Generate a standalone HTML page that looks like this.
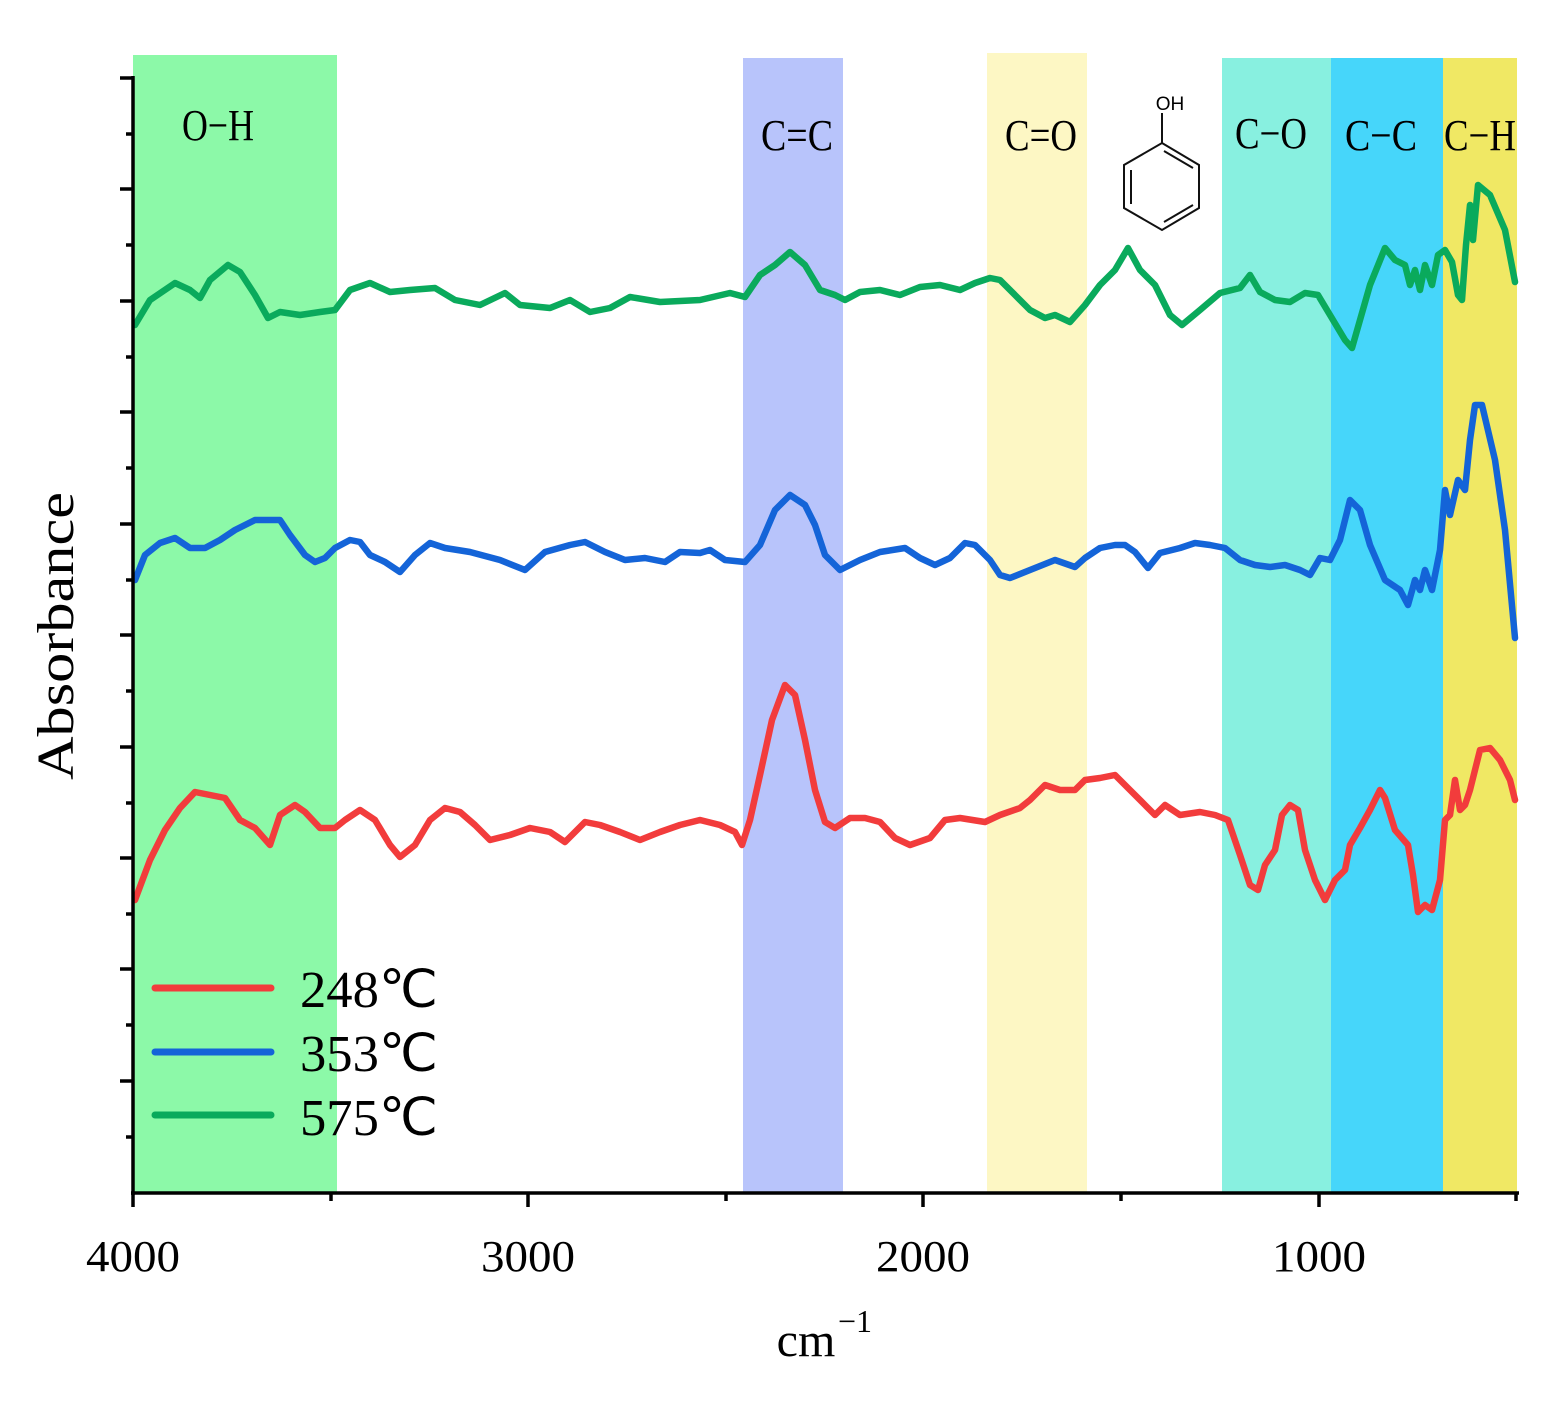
<!DOCTYPE html>
<html><head><meta charset="utf-8"><style>body{margin:0;background:#fff}svg{display:block}</style></head><body>
<svg width="1561" height="1401" xmlns="http://www.w3.org/2000/svg" font-family="Liberation Serif, serif">
<rect x="133" y="55" width="204" height="1138" fill="#8cf9a8"/>
<rect x="743" y="58" width="100" height="1135" fill="#b8c4fb"/>
<rect x="987" y="53" width="100" height="1140" fill="#fdf7c4"/>
<rect x="1222" y="58" width="109" height="1135" fill="#88f0e0"/>
<rect x="1331" y="58" width="112" height="1135" fill="#46d6fa"/>
<rect x="1443" y="58" width="74" height="1135" fill="#f0e864"/>
<g font-size="44" text-anchor="middle">
<text x="218" y="140" textLength="72" lengthAdjust="spacingAndGlyphs">O−H</text><text x="797" y="150" textLength="72" lengthAdjust="spacingAndGlyphs">C=C</text><text x="1041" y="150" textLength="72" lengthAdjust="spacingAndGlyphs">C=O</text>
<text x="1271" y="148" textLength="72" lengthAdjust="spacingAndGlyphs">C−O</text><text x="1381" y="150" textLength="72" lengthAdjust="spacingAndGlyphs">C−C</text><text x="1480" y="150" textLength="72" lengthAdjust="spacingAndGlyphs">C−H</text>
</g>
<g stroke="#111" stroke-width="2" fill="none">
<polygon points="1162,143 1199,165 1199,208 1162,230 1124,208 1124,165"/>
<line x1="1162" y1="143" x2="1162" y2="113"/>
<line x1="1164" y1="151" x2="1193" y2="168"/>
<line x1="1131" y1="170" x2="1131" y2="204"/>
<line x1="1164" y1="222" x2="1193" y2="205"/>
</g>
<text x="1170" y="110" font-family="Liberation Sans, sans-serif" font-size="19" text-anchor="middle">OH</text>
<g fill="none" stroke-width="6.5" stroke-linejoin="round" stroke-linecap="round">
<polyline stroke="#0aaa5c" points="135,325 150,300 175,283 190,290 200,298 210,280 228,265 240,272 255,295 268,318 280,312 300,315 320,312 335,310 350,290 370,283 390,292 410,290 435,288 455,300 480,305 505,293 520,305 550,308 570,300 590,312 610,308 630,297 660,302 700,300 730,293 745,297 760,275 775,265 790,252 805,265 820,290 835,295 845,300 860,292 880,290 900,295 920,287 940,285 960,290 975,283 990,278 1000,280 1015,295 1030,310 1045,318 1055,315 1070,322 1085,305 1100,285 1115,270 1128,248 1140,270 1155,285 1170,315 1182,325 1200,310 1220,293 1240,288 1250,275 1260,292 1275,300 1290,302 1305,293 1318,295 1330,315 1345,340 1352,348 1360,320 1370,285 1385,248 1395,260 1405,265 1410,285 1415,270 1420,290 1425,265 1432,285 1438,255 1445,250 1452,262 1458,295 1462,300 1466,245 1470,205 1473,240 1478,185 1490,195 1505,230 1515,282"/>
<polyline stroke="#1464d8" points="135,580 145,555 160,543 175,538 190,548 205,548 220,540 235,530 255,520 280,520 290,535 305,555 315,562 325,558 335,548 350,540 360,542 370,555 385,562 400,572 415,555 430,543 445,548 470,552 500,560 525,570 545,552 570,545 585,542 605,552 625,560 645,558 665,562 680,552 700,553 710,550 725,560 745,562 760,545 775,510 790,495 805,505 815,525 825,555 840,570 860,560 880,552 905,548 920,558 935,565 950,558 965,543 975,545 990,560 1000,575 1010,578 1030,570 1055,560 1075,567 1085,558 1100,548 1115,545 1125,545 1135,552 1148,568 1160,553 1180,548 1195,543 1210,545 1225,548 1240,560 1255,565 1270,567 1285,565 1300,570 1310,575 1320,558 1330,560 1340,540 1350,500 1360,510 1370,545 1385,580 1400,590 1408,605 1415,580 1420,590 1425,570 1432,590 1440,550 1445,490 1450,515 1458,480 1465,490 1470,440 1475,405 1482,405 1495,460 1505,530 1515,638"/>
<polyline stroke="#f23c3c" points="135,900 150,860 165,830 180,808 195,792 210,795 225,798 240,820 255,828 270,845 280,815 295,805 305,812 320,828 335,828 345,820 360,810 375,820 390,845 400,857 415,845 430,820 445,808 460,812 475,825 490,840 510,835 530,828 550,832 565,842 585,822 600,825 620,832 640,840 660,832 680,825 700,820 720,825 735,832 742,845 750,820 760,775 772,720 785,685 795,695 805,740 815,790 825,822 835,828 850,818 865,818 880,822 895,838 910,845 930,838 945,820 960,818 985,822 1000,815 1020,808 1030,800 1045,785 1060,790 1075,790 1085,780 1100,778 1115,775 1130,790 1145,805 1155,815 1165,805 1180,815 1200,812 1215,815 1228,820 1240,855 1250,885 1258,890 1265,865 1275,850 1282,815 1290,805 1298,810 1305,850 1315,880 1325,900 1335,880 1345,870 1350,845 1360,828 1370,810 1380,790 1385,798 1395,830 1408,845 1413,875 1418,912 1425,905 1432,910 1440,880 1445,820 1450,815 1455,780 1460,810 1465,805 1470,790 1480,750 1490,748 1500,760 1510,780 1515,800"/>
<line x1="155" y1="988" x2="271" y2="988" stroke="#f23c3c" stroke-width="7"/>
<line x1="155" y1="1052" x2="271" y2="1052" stroke="#1464d8" stroke-width="7"/>
<line x1="155" y1="1115" x2="271" y2="1115" stroke="#0aaa5c" stroke-width="7"/>
</g>
<g font-size="52"><text x="300" y="1007" textLength="138" lengthAdjust="spacingAndGlyphs">248℃</text><text x="300" y="1071" textLength="138" lengthAdjust="spacingAndGlyphs">353℃</text><text x="300" y="1135" textLength="138" lengthAdjust="spacingAndGlyphs">575℃</text></g>
<g stroke="#000" stroke-width="3.5">
<line x1="133" y1="76" x2="133" y2="1195"/><line x1="131" y1="1193" x2="1519" y2="1193"/>
<line x1="120" y1="78" x2="133" y2="78"/><line x1="120" y1="189" x2="133" y2="189"/><line x1="120" y1="301" x2="133" y2="301"/><line x1="120" y1="412" x2="133" y2="412"/><line x1="120" y1="524" x2="133" y2="524"/><line x1="120" y1="635" x2="133" y2="635"/><line x1="120" y1="747" x2="133" y2="747"/><line x1="120" y1="858" x2="133" y2="858"/><line x1="120" y1="969" x2="133" y2="969"/><line x1="120" y1="1081" x2="133" y2="1081"/>
<line x1="126" y1="134" x2="133" y2="134"/><line x1="126" y1="245" x2="133" y2="245"/><line x1="126" y1="357" x2="133" y2="357"/><line x1="126" y1="468" x2="133" y2="468"/><line x1="126" y1="580" x2="133" y2="580"/><line x1="126" y1="691" x2="133" y2="691"/><line x1="126" y1="803" x2="133" y2="803"/><line x1="126" y1="914" x2="133" y2="914"/><line x1="126" y1="1025" x2="133" y2="1025"/><line x1="126" y1="1137" x2="133" y2="1137"/>
<line x1="133" y1="1193" x2="133" y2="1207"/><line x1="528" y1="1193" x2="528" y2="1207"/><line x1="923" y1="1193" x2="923" y2="1207"/><line x1="1319" y1="1193" x2="1319" y2="1207"/>
<line x1="331" y1="1193" x2="331" y2="1201"/><line x1="726" y1="1193" x2="726" y2="1201"/><line x1="1121" y1="1193" x2="1121" y2="1201"/><line x1="1516" y1="1193" x2="1516" y2="1201"/>
</g>
<g font-size="44" text-anchor="middle"><text x="133" y="1271" textLength="94" lengthAdjust="spacingAndGlyphs">4000</text><text x="528" y="1271" textLength="94" lengthAdjust="spacingAndGlyphs">3000</text><text x="923" y="1271" textLength="94" lengthAdjust="spacingAndGlyphs">2000</text><text x="1319" y="1271" textLength="94" lengthAdjust="spacingAndGlyphs">1000</text></g>
<text x="806" y="1356" font-size="48" text-anchor="middle">cm</text><text x="838" y="1332" font-size="32">−1</text>
<text transform="translate(73,636) rotate(-90)" font-size="52" text-anchor="middle" textLength="288" lengthAdjust="spacingAndGlyphs">Absorbance</text>
</svg>
</body></html>
